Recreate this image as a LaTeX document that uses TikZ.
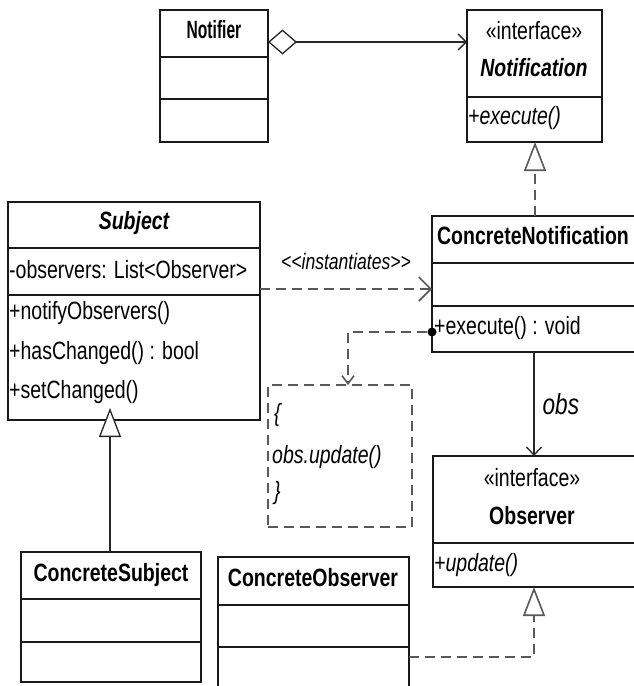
\documentclass[tikz,border=0pt]{standalone}
\usepackage{fontspec}
\usepackage{graphicx}
\setmainfont{Liberation Sans}[FakeStretch=0.78]
\usetikzlibrary{arrows.meta,calc}

\tikzset{
  box/.style={draw=black!90, line width=1.6pt, inner sep=0pt, outer sep=0pt, anchor=north west},
  sep/.style={draw=black!90, line width=1.6pt},
  txt/.style={inner sep=0pt, font=\fontsize{25}{30}\selectfont, text height=18pt, text depth=5pt},
  lefttxt/.style={txt, anchor=west},
  assoc/.style={draw=black!85, line width=1.3pt},
  dep/.style={draw=black!65, line width=1.6pt, dash pattern=on 10pt off 6pt},
  notebox/.style={draw=black!65, line width=1.6pt, dash pattern=on 10pt off 6pt, inner sep=0pt, outer sep=0pt, anchor=north west},
  openv/.style={-{Straight Barb[length=8pt,width=15pt]}},
  hollow/.style={-{Triangle[length=29pt,width=22pt,fill=white]}},
}

\begin{document}
\begin{tikzpicture}[x=1pt,y=-1pt]
\useasboundingbox (0,0) rectangle (634,686);

% ---- class boxes ----
\node[box, minimum width=108pt, minimum height=132pt] (notifier) at (160,10) {};
\node[box, minimum width=135pt, minimum height=132pt] (notif) at (467,10) {};
\node[box, minimum width=252pt, minimum height=218pt] (subject) at (8,202) {};
\node[box, minimum width=205pt, minimum height=136pt] (cn) at (432,216) {};
\node[box, minimum width=204pt, minimum height=131pt] (obsbox) at (433,456) {};
\node[box, minimum width=180pt, minimum height=130pt] (cs) at (21,552) {};
\node[box, minimum width=191pt, minimum height=140pt] (co) at (218,557) {};
\node[notebox, minimum width=144pt, minimum height=142pt] (note) at (268,385) {};

% ---- compartment separators ----
\draw[sep] (notifier.west |- 0,57) -- (notifier.east |- 0,57);
\draw[sep] (notifier.west |- 0,99) -- (notifier.east |- 0,99);
\draw[sep] (notif.west |- 0,97) -- (notif.east |- 0,97);
\draw[sep] (subject.west |- 0,248) -- (subject.east |- 0,248);
\draw[sep] (subject.west |- 0,295) -- (subject.east |- 0,295);
\draw[sep] (cn.west |- 0,263) -- (cn.east |- 0,263);
\draw[sep] (cn.west |- 0,306) -- (cn.east |- 0,306);
\draw[sep] (obsbox.west |- 0,543) -- (obsbox.east |- 0,543);
\draw[sep] (cs.west |- 0,599) -- (cs.east |- 0,599);
\draw[sep] (cs.west |- 0,642) -- (cs.east |- 0,642);
\draw[sep] (co.west |- 0,605) -- (co.east |- 0,605);
\draw[sep] (co.west |- 0,647) -- (co.east |- 0,647);

% ---- texts ----
\node[txt] (tnotifier) at (214,32) {\scalebox{0.8}[1]{\bfseries Notifier}};
\node[txt] (tst1) at (534,33) {«interface»};
\node[txt] (tnotif) at (534,70) {\bfseries\itshape Notification};
\node[lefttxt] (texec) at (468,118) {\itshape +execute()};

\node[txt] (tsubject) at (134,223) {\bfseries\itshape Subject};
\node[lefttxt] (tattr) at (9,272) {-observers: List<Observer>};
\node[lefttxt] (tm1) at (9,313) {+notifyObservers()};
\node[lefttxt] (tm2) at (9,353) {+hasChanged() : bool};
\node[lefttxt] (tm3) at (9,392) {+setChanged()};

\node[txt] (tcn) at (533,238) {\bfseries ConcreteNotification};
\node[lefttxt] (tcnm) at (434,328) {+execute() : void};

\node[lefttxt] (tn1) at (274,415) {\itshape \{};
\node[lefttxt] (tn2) at (272,457) {\itshape obs.update()};
\node[lefttxt] (tn3) at (274,493) {\itshape \}};

\node[txt] (tst2) at (532,480) {«interface»};
\node[txt] (tobs) at (532,518) {\bfseries Observer};
\node[lefttxt] (tupd) at (434,565) {\itshape +update()};

\node[txt] (tcs) at (111,575) {\bfseries ConcreteSubject};
\node[txt] (tco) at (313,580) {\bfseries ConcreteObserver};

% ---- connectors ----
% aggregation Notifier -> Notification
\draw[assoc, {Diamond[length=29pt,width=25pt,fill=white]}-{Straight Barb[length=8pt,width=16pt]}]
  (notifier.east |- 0,42) -- (notif.west |- 0,42);

% instantiation dependency
\draw[dep, -{Straight Barb[length=12pt,width=24pt]}]
  (subject.east |- 0,289) -- node[txt, above=14pt, font=\fontsize{22.5}{27}\selectfont\itshape] (tinst) {<\kern0pt<instantiates>\kern0pt>} (cn.west |- 0,289);

% realisation ConcreteNotification -> Notification
\draw[dep, hollow] (535,0 |- cn.north) -- (535,0 |- notif.south);

% generalisation ConcreteSubject -> Subject
\draw[assoc, hollow, shorten >=-12pt] (110,0 |- cs.north) -- (110,0 |- subject.south);

% association ConcreteNotification -> Observer
\draw[assoc, openv] (534,0 |- cn.south) -- node[right=8pt, inner sep=0pt, font=\fontsize{29}{34}\selectfont\itshape] (tobslbl) {obs} (534,0 |- obsbox.north);

% realisation ConcreteObserver -> Observer
\draw[dep, hollow] (co.east |- 0,657) -| (534,0 |- obsbox.south);

% note attachment
\node[circle, fill=black, inner sep=0pt, minimum size=9pt] (dot) at (cn.west |- 0,332) {};
\draw[dep, -{Straight Barb[length=8pt,width=12pt]}] (dot.west) -| (348,0 |- note.north);
\end{tikzpicture}
\end{document}
